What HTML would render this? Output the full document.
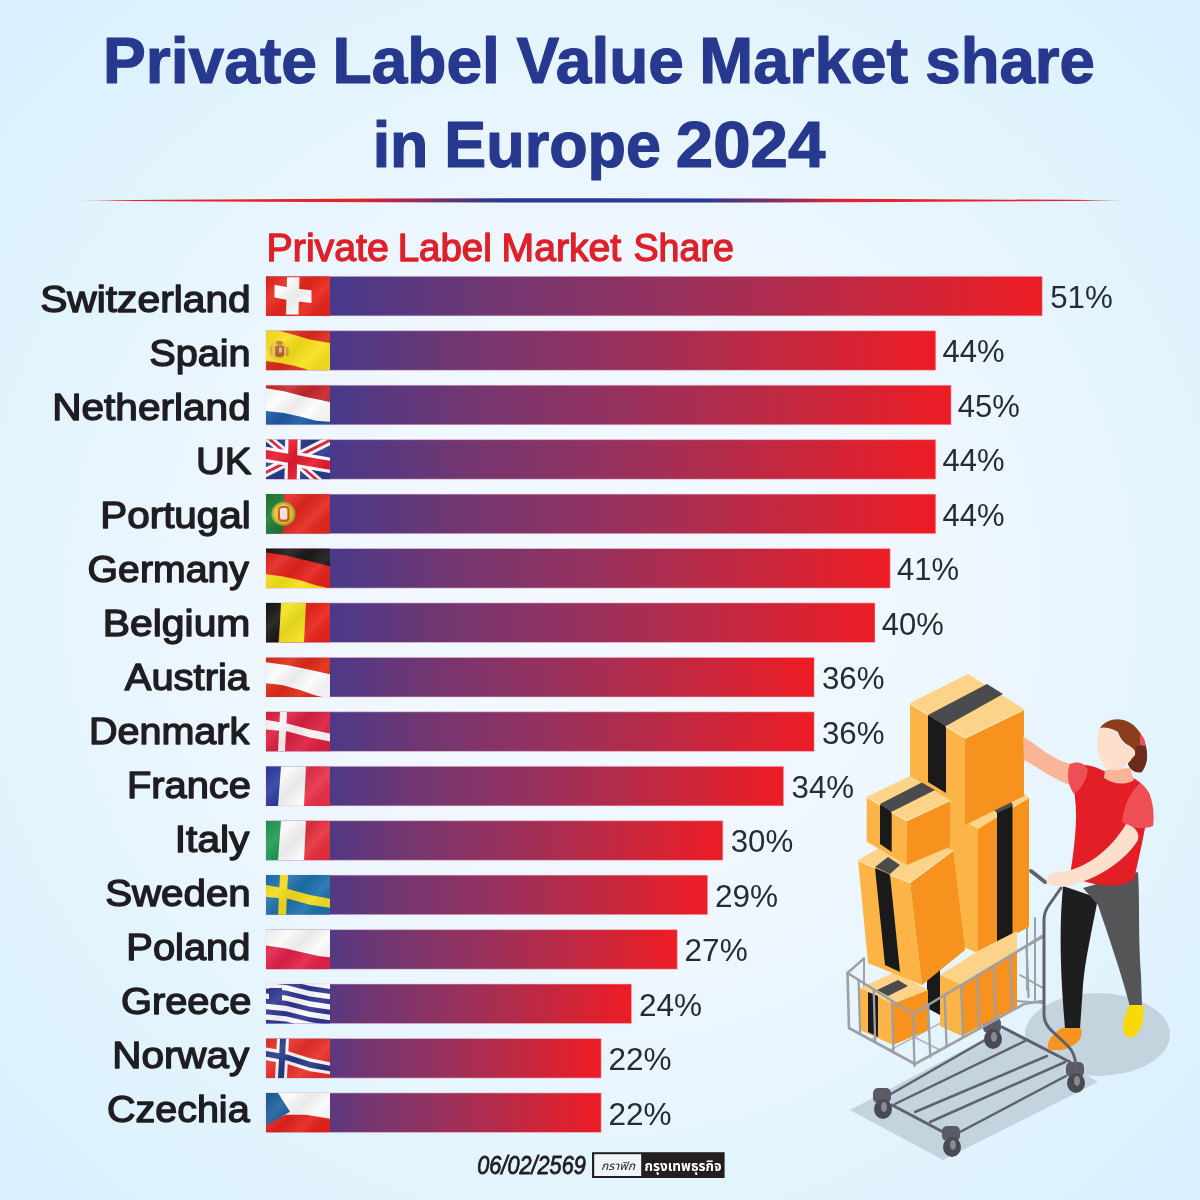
<!DOCTYPE html>
<html lang="en"><head><meta charset="utf-8"><title>Private Label Value Market share in Europe 2024</title>
<style>html,body{margin:0;padding:0;background:#e6f4fd}body{width:1200px;height:1200px;overflow:hidden}svg{display:block}text{font-family:"Liberation Sans", "Noto Sans Thai", "DejaVu Sans", sans-serif}
.ttl{font-weight:700;fill:#27388f;stroke:#27388f;stroke-width:1.2px;stroke-linejoin:round}
.sub{fill:#df2029;stroke:#df2029;stroke-width:1.3px;stroke-linejoin:round}
.lab{fill:#1f1d21;stroke:#1f1d21;stroke-width:1.4px;stroke-linejoin:round}
.pct{fill:#262b35}
.dt{font-style:italic;fill:#1f1d21;stroke:#1f1d21;stroke-width:.7px}
</style></head><body>
<svg width="1200" height="1200" viewBox="0 0 1200 1200">
<defs>
<radialGradient id="bg" gradientUnits="userSpaceOnUse" cx="600" cy="600" r="850"><stop offset="0" stop-color="#f4f9ff"/><stop offset="0.44" stop-color="#eef6fe"/><stop offset="0.59" stop-color="#e7f5fe"/><stop offset="0.68" stop-color="#e3f4fd"/><stop offset="0.96" stop-color="#daf0fe"/></radialGradient>
<linearGradient id="dv" x1="0" x2="1" y1="0" y2="0"><stop offset="0" stop-color="#e8232b" stop-opacity="0.3"/><stop offset="0.04" stop-color="#e8232b"/><stop offset="0.27" stop-color="#e2232e"/><stop offset="0.40" stop-color="#2b3990"/><stop offset="0.60" stop-color="#2b3990"/><stop offset="0.73" stop-color="#e2232e"/><stop offset="0.96" stop-color="#e8232b"/><stop offset="1" stop-color="#e8232b" stop-opacity="0.3"/></linearGradient>
<linearGradient id="wave" x1="0" x2="1" y1="0" y2="0.6"><stop offset="0" stop-color="#000" stop-opacity="0.06"/><stop offset="0.3" stop-color="#fff" stop-opacity="0.10"/><stop offset="0.55" stop-color="#000" stop-opacity="0.07"/><stop offset="0.8" stop-color="#fff" stop-opacity="0.08"/><stop offset="1" stop-color="#000" stop-opacity="0.05"/></linearGradient>
<clipPath id="fc"><rect width="64" height="40"/></clipPath>
<linearGradient id="g0" gradientUnits="userSpaceOnUse" x1="266" x2="1042.3" y1="0" y2="0"><stop offset="0" stop-color="#343b96"/><stop offset="0.3" stop-color="#733670"/><stop offset="0.5" stop-color="#933260"/><stop offset="0.8" stop-color="#c9263c"/><stop offset="1" stop-color="#ee1c24"/></linearGradient>
<linearGradient id="g1" gradientUnits="userSpaceOnUse" x1="266" x2="935.8" y1="0" y2="0"><stop offset="0" stop-color="#343b96"/><stop offset="0.3" stop-color="#733670"/><stop offset="0.5" stop-color="#933260"/><stop offset="0.8" stop-color="#c9263c"/><stop offset="1" stop-color="#ee1c24"/></linearGradient>
<linearGradient id="g2" gradientUnits="userSpaceOnUse" x1="266" x2="951.1" y1="0" y2="0"><stop offset="0" stop-color="#343b96"/><stop offset="0.3" stop-color="#733670"/><stop offset="0.5" stop-color="#933260"/><stop offset="0.8" stop-color="#c9263c"/><stop offset="1" stop-color="#ee1c24"/></linearGradient>
<linearGradient id="g3" gradientUnits="userSpaceOnUse" x1="266" x2="935.8" y1="0" y2="0"><stop offset="0" stop-color="#343b96"/><stop offset="0.3" stop-color="#733670"/><stop offset="0.5" stop-color="#933260"/><stop offset="0.8" stop-color="#c9263c"/><stop offset="1" stop-color="#ee1c24"/></linearGradient>
<linearGradient id="g4" gradientUnits="userSpaceOnUse" x1="266" x2="935.8" y1="0" y2="0"><stop offset="0" stop-color="#343b96"/><stop offset="0.3" stop-color="#733670"/><stop offset="0.5" stop-color="#933260"/><stop offset="0.8" stop-color="#c9263c"/><stop offset="1" stop-color="#ee1c24"/></linearGradient>
<linearGradient id="g5" gradientUnits="userSpaceOnUse" x1="266" x2="890.2" y1="0" y2="0"><stop offset="0" stop-color="#343b96"/><stop offset="0.3" stop-color="#733670"/><stop offset="0.5" stop-color="#933260"/><stop offset="0.8" stop-color="#c9263c"/><stop offset="1" stop-color="#ee1c24"/></linearGradient>
<linearGradient id="g6" gradientUnits="userSpaceOnUse" x1="266" x2="875.0" y1="0" y2="0"><stop offset="0" stop-color="#343b96"/><stop offset="0.3" stop-color="#733670"/><stop offset="0.5" stop-color="#933260"/><stop offset="0.8" stop-color="#c9263c"/><stop offset="1" stop-color="#ee1c24"/></linearGradient>
<linearGradient id="g7" gradientUnits="userSpaceOnUse" x1="266" x2="814.2" y1="0" y2="0"><stop offset="0" stop-color="#343b96"/><stop offset="0.3" stop-color="#733670"/><stop offset="0.5" stop-color="#933260"/><stop offset="0.8" stop-color="#c9263c"/><stop offset="1" stop-color="#ee1c24"/></linearGradient>
<linearGradient id="g8" gradientUnits="userSpaceOnUse" x1="266" x2="814.2" y1="0" y2="0"><stop offset="0" stop-color="#343b96"/><stop offset="0.3" stop-color="#733670"/><stop offset="0.5" stop-color="#933260"/><stop offset="0.8" stop-color="#c9263c"/><stop offset="1" stop-color="#ee1c24"/></linearGradient>
<linearGradient id="g9" gradientUnits="userSpaceOnUse" x1="266" x2="783.7" y1="0" y2="0"><stop offset="0" stop-color="#343b96"/><stop offset="0.3" stop-color="#733670"/><stop offset="0.5" stop-color="#933260"/><stop offset="0.8" stop-color="#c9263c"/><stop offset="1" stop-color="#ee1c24"/></linearGradient>
<linearGradient id="g10" gradientUnits="userSpaceOnUse" x1="266" x2="722.9" y1="0" y2="0"><stop offset="0" stop-color="#343b96"/><stop offset="0.3" stop-color="#733670"/><stop offset="0.5" stop-color="#933260"/><stop offset="0.8" stop-color="#c9263c"/><stop offset="1" stop-color="#ee1c24"/></linearGradient>
<linearGradient id="g11" gradientUnits="userSpaceOnUse" x1="266" x2="707.7" y1="0" y2="0"><stop offset="0" stop-color="#343b96"/><stop offset="0.3" stop-color="#733670"/><stop offset="0.5" stop-color="#933260"/><stop offset="0.8" stop-color="#c9263c"/><stop offset="1" stop-color="#ee1c24"/></linearGradient>
<linearGradient id="g12" gradientUnits="userSpaceOnUse" x1="266" x2="677.3" y1="0" y2="0"><stop offset="0" stop-color="#343b96"/><stop offset="0.3" stop-color="#733670"/><stop offset="0.5" stop-color="#933260"/><stop offset="0.8" stop-color="#c9263c"/><stop offset="1" stop-color="#ee1c24"/></linearGradient>
<linearGradient id="g13" gradientUnits="userSpaceOnUse" x1="266" x2="631.6" y1="0" y2="0"><stop offset="0" stop-color="#343b96"/><stop offset="0.3" stop-color="#733670"/><stop offset="0.5" stop-color="#933260"/><stop offset="0.8" stop-color="#c9263c"/><stop offset="1" stop-color="#ee1c24"/></linearGradient>
<linearGradient id="g14" gradientUnits="userSpaceOnUse" x1="266" x2="601.2" y1="0" y2="0"><stop offset="0" stop-color="#343b96"/><stop offset="0.3" stop-color="#733670"/><stop offset="0.5" stop-color="#933260"/><stop offset="0.8" stop-color="#c9263c"/><stop offset="1" stop-color="#ee1c24"/></linearGradient>
<linearGradient id="g15" gradientUnits="userSpaceOnUse" x1="266" x2="601.2" y1="0" y2="0"><stop offset="0" stop-color="#343b96"/><stop offset="0.3" stop-color="#733670"/><stop offset="0.5" stop-color="#933260"/><stop offset="0.8" stop-color="#c9263c"/><stop offset="1" stop-color="#ee1c24"/></linearGradient>
</defs>
<rect width="1200" height="1200" fill="url(#bg)"/>
<text transform="matrix(1.0025 0 0 1.0200 102.99 83.30)" font-size="64.00" class="ttl" >Private</text>
<text transform="matrix(1.0008 0 0 1.0200 332.60 83.30)" font-size="64.00" class="ttl" >Label</text>
<text transform="matrix(1.0011 0 0 1.0200 516.60 83.30)" font-size="64.00" class="ttl" >Value</text>
<text transform="matrix(1.0119 0 0 1.0200 699.25 83.30)" font-size="64.00" class="ttl" >Market</text>
<text transform="matrix(0.9935 0 0 1.0200 925.31 83.30)" font-size="64.00" class="ttl" >share</text>
<text transform="matrix(0.9803 0 0 1.0200 372.68 166.60)" font-size="64.00" class="ttl" >in</text>
<text transform="matrix(0.9824 0 0 1.0200 444.37 166.60)" font-size="64.00" class="ttl" >Europe</text>
<text transform="matrix(1.0499 0 0 1.0200 675.80 166.60)" font-size="64.00" class="ttl" >2024</text>
<path d="M77,200.4 Q600,196.2 1126,200.4 Q600,204.8 77,200.4 Z" fill="url(#dv)"/>
<text transform="matrix(1.0265 0 0 1.0000 266.58 261.30)" font-size="38.30" class="sub" >Private</text>
<text transform="matrix(1.0057 0 0 1.0000 397.64 261.30)" font-size="38.30" class="sub" >Label</text>
<text transform="matrix(1.0220 0 0 1.0000 501.59 261.30)" font-size="38.30" class="sub" >Market</text>
<text transform="matrix(0.9824 0 0 1.0000 633.47 261.30)" font-size="38.30" class="sub" >Share</text>
<rect x="266" y="276.3" width="776.3" height="39.6" fill="url(#g0)" stroke="#f3c6d6" stroke-opacity=".55" stroke-width="1"/>
<g transform="translate(266 276.3) scale(1 0.990)" clip-path="url(#fc)"><rect width="64" height="40" fill="#e8261c"/><polygon points="21,1 33.5,1 32.5,38.5 20,38.5" fill="#fbfbfb"/><polygon points="8.5,8.5 27,12 45.5,14 45.5,27 27,25 8.5,21.5" fill="#fbfbfb"/><rect width="64" height="40" fill="url(#wave)"/></g>
<text transform="matrix(1.0810 0 0 1.0000 40.13 311.50)" font-size="37.70" class="lab" >Switzerland</text>
<text transform="matrix(1.0189 0 0 1.0000 1050.13 308.00)" font-size="30.70" class="pct" >51%</text>
<rect x="266" y="330.7" width="669.8" height="39.6" fill="url(#g1)" stroke="#f3c6d6" stroke-opacity=".55" stroke-width="1"/>
<g transform="translate(266 330.7) scale(1 0.990)" clip-path="url(#fc)"><rect width="64" height="40" fill="#f9e11e"/><polygon points="13,0 64,0 64,12.5 44,9 26,3.5" fill="#dc2a1c"/><polygon points="0,30.5 14,32.5 28,35.5 40,39 42,40 0,40" fill="#dc2a1c"/><ellipse cx="12" cy="19.5" rx="9.5" ry="9.5" fill="#e9b548" opacity="0.6"/><rect x="9" y="15" width="9" height="11.5" rx="2.5" fill="#b0611f"/><rect x="10.5" y="10.5" width="6" height="4" rx="1.5" fill="#c27a28"/><rect x="4" y="16" width="2.6" height="9" fill="#d9a24a"/><rect x="20" y="16.5" width="2.6" height="9" fill="#d9a24a"/><rect x="13" y="17" width="3" height="5" fill="#e7c7c0" opacity=".8"/><rect width="64" height="40" fill="url(#wave)"/></g>
<text transform="matrix(1.0534 0 0 1.0000 149.16 365.50)" font-size="37.70" class="lab" >Spain</text>
<text transform="matrix(1.0108 0 0 1.0000 942.56 362.44)" font-size="30.70" class="pct" >44%</text>
<rect x="266" y="385.2" width="685.1" height="39.6" fill="url(#g2)" stroke="#f3c6d6" stroke-opacity=".55" stroke-width="1"/>
<g transform="translate(266 385.2) scale(1 0.990)" clip-path="url(#fc)"><rect width="64" height="40" fill="#fdfdfd"/><polygon points="0,0 64,0 64,17 40,12 18,6 0,3" fill="#c8262c"/><polygon points="0,26 18,28 36,32 50,36 64,37 64,40 0,40" fill="#1f5aa6"/><rect width="64" height="40" fill="url(#wave)"/></g>
<text transform="matrix(1.0765 0 0 1.0000 52.23 419.50)" font-size="37.70" class="lab" >Netherland</text>
<text transform="matrix(1.0108 0 0 1.0000 957.77 416.88)" font-size="30.70" class="pct" >45%</text>
<rect x="266" y="439.6" width="669.8" height="39.6" fill="url(#g3)" stroke="#f3c6d6" stroke-opacity=".55" stroke-width="1"/>
<g transform="translate(266 439.6) scale(1 0.990)" clip-path="url(#fc)"><rect width="64" height="40" fill="#2b3a8c"/><g transform="matrix(1 0.17 -0.02 1 0 -5)"><path d="M-14,-8 L68,48 M68,-8 L-14,48" stroke="#fff" stroke-width="8.5"/><path d="M-14,-8 L68,48 M68,-8 L-14,48" stroke="#e0203a" stroke-width="2.8"/><path d="M27,-20 V60 M-20,20 H80" stroke="#fff" stroke-width="15.5"/><path d="M27,-20 V60 M-20,20 H80" stroke="#e51b2e" stroke-width="9"/></g><rect width="64" height="40" fill="url(#wave)"/></g>
<text transform="matrix(1.0583 0 0 1.0000 195.91 473.50)" font-size="37.70" class="lab" >UK</text>
<text transform="matrix(1.0108 0 0 1.0000 942.56 471.32)" font-size="30.70" class="pct" >44%</text>
<rect x="266" y="494.1" width="669.8" height="39.6" fill="url(#g4)" stroke="#f3c6d6" stroke-opacity=".55" stroke-width="1"/>
<g transform="translate(266 494.1) scale(1 0.990)" clip-path="url(#fc)"><rect width="64" height="40" fill="#e5281f"/><polygon points="0,0 18,0 17,40 0,40" fill="#1d7a35"/><circle cx="17.5" cy="20" r="11" fill="#e6c72a"/><circle cx="17.5" cy="20" r="11" fill="none" stroke="#9fae2a" stroke-width="2"/><rect x="14" y="14" width="7.5" height="12" rx="2" fill="#f3ece6"/><rect x="13" y="13" width="9.5" height="14" rx="3" fill="none" stroke="#d9532a" stroke-width="2"/><rect width="64" height="40" fill="url(#wave)"/></g>
<text transform="matrix(1.0720 0 0 1.0000 100.24 527.50)" font-size="37.70" class="lab" >Portugal</text>
<text transform="matrix(1.0108 0 0 1.0000 942.56 525.76)" font-size="30.70" class="pct" >44%</text>
<rect x="266" y="548.5" width="624.2" height="39.6" fill="url(#g5)" stroke="#f3c6d6" stroke-opacity=".55" stroke-width="1"/>
<g transform="translate(266 548.5) scale(1 0.990)" clip-path="url(#fc)"><rect width="64" height="40" fill="#e4231c"/><polygon points="0,0 64,0 64,18 44,13 20,7 0,4" fill="#1a1a1a"/><polygon points="0,26 16,28 34,32 50,37 62,40 0,40" fill="#f7e11a"/><rect width="64" height="40" fill="url(#wave)"/></g>
<text transform="matrix(1.0407 0 0 1.0000 87.56 581.50)" font-size="37.70" class="lab" >Germany</text>
<text transform="matrix(1.0108 0 0 1.0000 896.93 580.20)" font-size="30.70" class="pct" >41%</text>
<rect x="266" y="602.9" width="609.0" height="39.6" fill="url(#g6)" stroke="#f3c6d6" stroke-opacity=".55" stroke-width="1"/>
<g transform="translate(266 602.9) scale(1 0.990)" clip-path="url(#fc)"><rect width="64" height="40" fill="#e9251d"/><polygon points="0,0 16,0 12,40 0,40" fill="#161616"/><polygon points="15,0 40,0 38,40 13,40" fill="#f3e41e"/><rect width="64" height="40" fill="url(#wave)"/></g>
<text transform="matrix(1.0837 0 0 1.0000 102.81 635.50)" font-size="37.70" class="lab" >Belgium</text>
<text transform="matrix(1.0108 0 0 1.0000 881.72 634.64)" font-size="30.70" class="pct" >40%</text>
<rect x="266" y="657.4" width="548.2" height="39.6" fill="url(#g7)" stroke="#f3c6d6" stroke-opacity=".55" stroke-width="1"/>
<g transform="translate(266 657.4) scale(1 0.990)" clip-path="url(#fc)"><rect width="64" height="40" fill="#fcfcfc"/><polygon points="0,0 64,0 64,17 46,13 22,8 0,5" fill="#e12a18"/><polygon points="0,26 16,28 34,33 48,38 56,40 0,40" fill="#e12a18"/><rect width="64" height="40" fill="url(#wave)"/></g>
<text transform="matrix(1.0589 0 0 1.0000 124.80 689.50)" font-size="37.70" class="lab" >Austria</text>
<text transform="matrix(1.0189 0 0 1.0000 821.98 689.08)" font-size="30.70" class="pct" >36%</text>
<rect x="266" y="711.8" width="548.2" height="39.6" fill="url(#g8)" stroke="#f3c6d6" stroke-opacity=".55" stroke-width="1"/>
<g transform="translate(266 711.8) scale(1 0.990)" clip-path="url(#fc)"><rect width="64" height="40" fill="#dc2042"/><polygon points="0,8 22,12 44,18 64,22 64,30 44,26 22,20 0,18" fill="#fbf4f4"/><polygon points="14,0 21,0 19,40 12,40" fill="#fbf4f4"/><rect width="64" height="40" fill="url(#wave)"/></g>
<text transform="matrix(1.0486 0 0 1.0000 88.91 743.50)" font-size="37.70" class="lab" >Denmark</text>
<text transform="matrix(1.0189 0 0 1.0000 821.98 743.52)" font-size="30.70" class="pct" >36%</text>
<rect x="266" y="766.3" width="517.7" height="39.6" fill="url(#g9)" stroke="#f3c6d6" stroke-opacity=".55" stroke-width="1"/>
<g transform="translate(266 766.3) scale(1 0.990)" clip-path="url(#fc)"><rect width="64" height="40" fill="#fafafa"/><polygon points="0,0 15,0 12,40 0,40" fill="#2c3c9e"/><polygon points="40,0 64,0 64,40 38,40" fill="#e8324a"/><rect width="64" height="40" fill="url(#wave)"/></g>
<text transform="matrix(1.0571 0 0 1.0000 126.89 797.50)" font-size="37.70" class="lab" >France</text>
<text transform="matrix(1.0189 0 0 1.0000 791.56 797.96)" font-size="30.70" class="pct" >34%</text>
<rect x="266" y="820.7" width="456.9" height="39.6" fill="url(#g10)" stroke="#f3c6d6" stroke-opacity=".55" stroke-width="1"/>
<g transform="translate(266 820.7) scale(1 0.990)" clip-path="url(#fc)"><rect width="64" height="40" fill="#fafafa"/><polygon points="0,0 15,0 12,40 0,40" fill="#1f9b55"/><polygon points="40,0 64,0 64,40 38,40" fill="#e6303e"/><rect width="64" height="40" fill="url(#wave)"/></g>
<text transform="matrix(1.0771 0 0 1.0000 174.83 851.50)" font-size="37.70" class="lab" >Italy</text>
<text transform="matrix(1.0189 0 0 1.0000 730.72 852.40)" font-size="30.70" class="pct" >30%</text>
<rect x="266" y="875.1" width="441.7" height="39.6" fill="url(#g11)" stroke="#f3c6d6" stroke-opacity=".55" stroke-width="1"/>
<g transform="translate(266 875.1) scale(1 0.990)" clip-path="url(#fc)"><rect width="64" height="40" fill="#1d72ad"/><polygon points="0,10 22,14 44,20 64,24 64,33 44,30 22,24 0,22" fill="#f4dc1c"/><polygon points="14,0 22,0 20,40 12,40" fill="#f4dc1c"/><rect width="64" height="40" fill="url(#wave)"/></g>
<text transform="matrix(1.0689 0 0 1.0000 105.14 905.50)" font-size="37.70" class="lab" >Sweden</text>
<text transform="matrix(1.0272 0 0 1.0000 715.01 906.84)" font-size="30.70" class="pct" >29%</text>
<rect x="266" y="929.6" width="411.3" height="39.6" fill="url(#g12)" stroke="#f3c6d6" stroke-opacity=".55" stroke-width="1"/>
<g transform="translate(266 929.6) scale(1 0.990)" clip-path="url(#fc)"><rect width="64" height="40" fill="#fbfbfb"/><polygon points="0,16 20,19 40,24 54,27 64,28 64,40 0,40" fill="#e4214a"/><rect width="64" height="40" fill="url(#wave)"/></g>
<text transform="matrix(1.0585 0 0 1.0000 126.28 959.50)" font-size="37.70" class="lab" >Poland</text>
<text transform="matrix(1.0272 0 0 1.0000 684.59 961.28)" font-size="30.70" class="pct" >27%</text>
<rect x="266" y="984.0" width="365.6" height="39.6" fill="url(#g13)" stroke="#f3c6d6" stroke-opacity=".55" stroke-width="1"/>
<g transform="translate(266 984.0) scale(1 0.990)" clip-path="url(#fc)"><rect width="64" height="40" fill="#fdfdfd"/><polygon points="0,-6.0 20,-4.0 44,2.0 64,5.0 64,10.0 44,7.0 20,1.0 0,-1.0" fill="#2f3590"/><polygon points="0,4.5 20,6.5 44,12.5 64,15.5 64,20.5 44,17.5 20,11.5 0,9.5" fill="#2f3590"/><polygon points="0,15.0 20,17.0 44,23.0 64,26.0 64,31.0 44,28.0 20,22.0 0,20.0" fill="#2f3590"/><polygon points="0,25.5 20,27.5 44,33.5 64,36.5 64,41.5 44,38.5 20,32.5 0,30.5" fill="#2f3590"/><polygon points="0,36.0 20,38.0 44,44.0 64,47.0 64,52.0 44,49.0 20,43.0 0,41.0" fill="#2f3590"/><rect x="3" y="4" width="13" height="13" fill="#2f3590"/><rect width="64" height="40" fill="url(#wave)"/></g>
<text transform="matrix(1.0562 0 0 1.0000 120.93 1013.50)" font-size="37.70" class="lab" >Greece</text>
<text transform="matrix(1.0272 0 0 1.0000 638.96 1015.72)" font-size="30.70" class="pct" >24%</text>
<rect x="266" y="1038.5" width="335.2" height="39.6" fill="url(#g14)" stroke="#f3c6d6" stroke-opacity=".55" stroke-width="1"/>
<g transform="translate(266 1038.5) scale(1 0.990)" clip-path="url(#fc)"><rect width="64" height="40" fill="#e8302a"/><polygon points="0,9 22,13 44,20 64,24 64,36 44,33 22,26 0,22" fill="#fdf6f6"/><polygon points="11,0 23,0 21,40 9,40" fill="#fdf6f6"/><polygon points="0,12.5 22,16.5 44,23.5 64,27.5 64,33 44,29.5 22,22.5 0,18.5" fill="#243a86"/><polygon points="14,0 20,0 18,40 12,40" fill="#243a86"/><rect width="64" height="40" fill="url(#wave)"/></g>
<text transform="matrix(1.0725 0 0 1.0000 112.24 1067.50)" font-size="37.70" class="lab" >Norway</text>
<text transform="matrix(1.0272 0 0 1.0000 608.54 1070.16)" font-size="30.70" class="pct" >22%</text>
<rect x="266" y="1092.9" width="335.2" height="39.6" fill="url(#g15)" stroke="#f3c6d6" stroke-opacity=".55" stroke-width="1"/>
<g transform="translate(266 1092.9) scale(1 0.990)" clip-path="url(#fc)"><rect width="64" height="40" fill="#fbfbfb"/><polygon points="0,30 20,22 40,22 64,26 64,40 0,40" fill="#e4231e"/><polygon points="0,0 12,0 24,19 6,30 0,32" fill="#1d5f9a"/><rect width="64" height="40" fill="url(#wave)"/></g>
<text transform="matrix(1.0477 0 0 1.0000 106.95 1121.50)" font-size="37.70" class="lab" >Czechia</text>
<text transform="matrix(1.0272 0 0 1.0000 608.54 1124.60)" font-size="30.70" class="pct" >22%</text>
<polygon points="850.0,1110.0 943.0,1160.0 1098.0,1082.0 1005.0,1028.0" fill="#c4d4df" /><ellipse cx="1097.5" cy="1034.5" rx="72.5" ry="41.5" fill="#c3d4df"/><polyline points="884.0,1098.0 992.0,1036.0" fill="none" stroke="#5d626d" stroke-width="2.5" stroke-linecap="round" stroke-linejoin="round" /><polyline points="895.0,1104.0 1025.0,1041.0" fill="none" stroke="#5d626d" stroke-width="2.5" stroke-linecap="round" stroke-linejoin="round" /><polyline points="915.0,1112.0 1047.0,1056.0" fill="none" stroke="#5d626d" stroke-width="2.5" stroke-linecap="round" stroke-linejoin="round" /><polyline points="930.0,1122.0 1065.0,1062.0" fill="none" stroke="#5d626d" stroke-width="2.5" stroke-linecap="round" stroke-linejoin="round" /><polyline points="960.0,1132.0 1066.0,1076.0" fill="none" stroke="#5d626d" stroke-width="2.5" stroke-linecap="round" stroke-linejoin="round" /><polyline points="892.0,1105.0 945.0,1133.0" fill="none" stroke="#5d626d" stroke-width="3" stroke-linecap="round" stroke-linejoin="round" /><polyline points="1002.0,1027.0 1070.0,1062.0" fill="none" stroke="#5d626d" stroke-width="3" stroke-linecap="round" stroke-linejoin="round" /><rect x="873.0" y="1088.0" width="18" height="15" rx="5" fill="#5b5b66"/><ellipse cx="883.0" cy="1109.0" rx="9" ry="10" fill="#4a4a55"/><ellipse cx="884.0" cy="1107.0" rx="3" ry="5" fill="#8a8a92"/><rect x="942.0" y="1126.0" width="18" height="15" rx="5" fill="#5b5b66"/><ellipse cx="952.0" cy="1147.0" rx="9" ry="10" fill="#4a4a55"/><ellipse cx="953.0" cy="1145.0" rx="3" ry="5" fill="#8a8a92"/><rect x="1066.0" y="1062.0" width="18" height="15" rx="5" fill="#5b5b66"/><ellipse cx="1076.0" cy="1083.0" rx="9" ry="10" fill="#4a4a55"/><ellipse cx="1077.0" cy="1081.0" rx="3" ry="5" fill="#8a8a92"/><rect x="983.0" y="1018.0" width="18" height="15" rx="5" fill="#5b5b66"/><ellipse cx="993.0" cy="1039.0" rx="9" ry="10" fill="#4a4a55"/><ellipse cx="994.0" cy="1037.0" rx="3" ry="5" fill="#8a8a92"/><polyline points="847.5,973.0 864.0,958.5" fill="none" stroke="#9da0a7" stroke-width="2.4" stroke-linecap="round" stroke-linejoin="round" /><polyline points="864.0,958.5 864.0,1008.0" fill="none" stroke="#9da0a7" stroke-width="2" stroke-linecap="round" stroke-linejoin="round" /><polyline points="1027.0,922.0 1027.0,990.0" fill="none" stroke="#9da0a7" stroke-width="2" stroke-linecap="round" stroke-linejoin="round" /><polyline points="1035.0,918.0 1035.0,1000.0" fill="none" stroke="#9da0a7" stroke-width="2" stroke-linecap="round" stroke-linejoin="round" /><polyline points="1018.0,951.0 1043.0,937.0" fill="none" stroke="#9da0a7" stroke-width="2.4" stroke-linecap="round" stroke-linejoin="round" /><polyline points="1020.0,975.0 1043.0,988.0" fill="none" stroke="#9da0a7" stroke-width="2" stroke-linecap="round" stroke-linejoin="round" /><polyline points="1000.0,1000.0 1043.0,1003.0" fill="none" stroke="#9da0a7" stroke-width="2" stroke-linecap="round" stroke-linejoin="round" /><polyline points="870.2,1040.2 930.2,1008.2" fill="none" stroke="#9da0a7" stroke-width="1.6" stroke-linecap="round" stroke-linejoin="round" opacity=".8"/><polyline points="889.4,1050.4 949.4,1018.4" fill="none" stroke="#9da0a7" stroke-width="1.6" stroke-linecap="round" stroke-linejoin="round" opacity=".8"/><polyline points="880.0,1020.0 940.0,1050.0" fill="none" stroke="#9da0a7" stroke-width="1.6" stroke-linecap="round" stroke-linejoin="round" opacity=".8"/><polygon points="946.0,812.0 978.0,828.0 978.0,953.0 946.0,940.0" fill="#fbb445" /><polygon points="978.0,828.0 1029.0,798.0 1029.0,927.0 978.0,953.0" fill="#f7921e" /><polygon points="948.0,812.0 1018.0,787.0 1029.0,798.0 978.0,829.0" fill="#fdd38a" /><polygon points="997.0,812.0 1012.5,805.0 1012.5,935.0 997.0,944.0" fill="#1b1a1a" /><polygon points="991.0,807.0 1010.0,799.0 1013.0,806.0 997.0,813.0" fill="#4b4b4d" /><polygon points="940.0,975.0 962.0,984.0 962.0,1036.0 940.0,1026.0" fill="#fbb445" /><polygon points="962.0,984.0 1017.0,952.0 1017.0,1007.0 962.0,1036.0" fill="#f7921e" /><polygon points="940.0,975.0 978.0,951.0 1017.0,931.0 1017.0,952.0 962.0,985.0" fill="#fdd38a" /><polygon points="927.0,975.0 940.0,968.0 940.0,1015.0 927.0,1008.0" fill="#1b1a1a" /><polygon points="860.0,988.0 893.0,1003.0 893.0,1045.0 860.0,1030.0" fill="#fbb445" /><polygon points="893.0,1003.0 928.0,990.0 928.0,1030.0 893.0,1045.0" fill="#f7921e" /><polygon points="860.0,988.0 895.0,972.0 928.0,990.0 893.0,1004.0" fill="#fdd38a" /><polygon points="877.0,990.0 898.0,980.0 908.0,986.0 888.0,996.0" fill="#4b4b4d" /><polygon points="868.0,992.0 878.0,996.0 878.0,1037.0 868.0,1032.0" fill="#1b1a1a" /><polygon points="858.0,860.0 910.0,882.0 922.0,985.0 868.0,963.0" fill="#fbb445" /><polygon points="910.0,882.0 953.0,850.0 965.0,950.0 922.0,985.0" fill="#f7921e" /><polygon points="858.0,860.0 900.0,836.0 953.0,850.0 910.0,882.0" fill="#fdd38a" /><polygon points="875.0,867.0 888.0,857.0 900.0,865.0 890.0,874.0" fill="#4b4b4d" /><polygon points="875.0,868.0 890.0,874.5 900.0,972.0 885.0,965.0" fill="#1b1a1a" /><polyline points="858.0,860.6 875.0,868.0" fill="none" stroke="#fee3ad" stroke-width="1.3" stroke-linecap="round" stroke-linejoin="round" /><polyline points="890.0,874.8 910.0,882.6 953.0,850.6" fill="none" stroke="#fee3ad" stroke-width="1.3" stroke-linecap="round" stroke-linejoin="round" /><polygon points="910.0,703.0 965.0,737.5 965.0,825.0 910.0,791.0" fill="#fbb445" /><polygon points="965.0,737.5 1024.0,709.0 1024.0,796.0 965.0,825.0" fill="#f7921e" /><polygon points="910.0,703.0 968.0,674.0 1024.0,709.0 965.0,737.5" fill="#fdd38a" /><polygon points="987.0,684.0 1003.0,694.0 946.0,726.0 928.0,715.0" fill="#4b4b4d" /><polygon points="928.0,715.0 946.0,726.0 946.0,793.0 928.0,782.0" fill="#1b1a1a" /><polyline points="910.0,703.6 928.0,714.6" fill="none" stroke="#fee3ad" stroke-width="1.4" stroke-linecap="round" stroke-linejoin="round" /><polyline points="946.0,726.3 965.0,738.0 1024.0,709.6" fill="none" stroke="#fee3ad" stroke-width="1.4" stroke-linecap="round" stroke-linejoin="round" /><polygon points="866.7,796.7 906.7,820.0 906.7,865.0 866.7,841.7" fill="#fbb445" /><polygon points="906.7,820.0 950.0,800.0 950.0,846.7 906.7,865.0" fill="#f7921e" /><polygon points="866.7,796.7 910.0,776.0 950.0,800.0 906.7,820.0" fill="#fdd38a" /><polygon points="921.7,782.5 935.0,790.0 891.7,811.7 880.0,804.0" fill="#4b4b4d" /><polygon points="880.0,804.0 891.7,811.7 891.7,852.0 880.0,844.0" fill="#1b1a1a" /><polyline points="866.7,797.3 880.0,804.8" fill="none" stroke="#fee3ad" stroke-width="1.3" stroke-linecap="round" stroke-linejoin="round" /><polyline points="891.7,812.3 906.7,820.6 950.0,800.6" fill="none" stroke="#fee3ad" stroke-width="1.3" stroke-linecap="round" stroke-linejoin="round" /><polyline points="847.5,973.0 913.0,1014.0 1018.0,951.0 1042.0,936.0" fill="none" stroke="#9da0a7" stroke-width="2.6" stroke-linecap="round" stroke-linejoin="round" /><polyline points="849.0,1028.0 915.0,1064.0 1024.0,1004.0 1042.0,1001.0" fill="none" stroke="#9da0a7" stroke-width="2.6" stroke-linecap="round" stroke-linejoin="round" /><polyline points="847.5,973.0 849.0,1028.0" fill="none" stroke="#9da0a7" stroke-width="2.6" stroke-linecap="round" stroke-linejoin="round" /><polyline points="858.6,980.0 860.1,1032.0" fill="none" stroke="#9da0a7" stroke-width="2.3" stroke-linecap="round" stroke-linejoin="round" /><polyline points="873.7,989.4 875.2,1041.4" fill="none" stroke="#9da0a7" stroke-width="2.3" stroke-linecap="round" stroke-linejoin="round" /><polyline points="892.0,1000.9 893.5,1052.9" fill="none" stroke="#9da0a7" stroke-width="2.3" stroke-linecap="round" stroke-linejoin="round" /><polyline points="913.0,1014.0 914.5,1066.0" fill="none" stroke="#9da0a7" stroke-width="2.3" stroke-linecap="round" stroke-linejoin="round" /><polyline points="928.2,1004.8 930.2,1056.8" fill="none" stroke="#9da0a7" stroke-width="2.3" stroke-linecap="round" stroke-linejoin="round" /><polyline points="944.6,994.8 946.6,1046.8" fill="none" stroke="#9da0a7" stroke-width="2.3" stroke-linecap="round" stroke-linejoin="round" /><polyline points="961.0,984.9 963.0,1036.9" fill="none" stroke="#9da0a7" stroke-width="2.3" stroke-linecap="round" stroke-linejoin="round" /><polyline points="977.4,975.0 979.4,1027.0" fill="none" stroke="#9da0a7" stroke-width="2.3" stroke-linecap="round" stroke-linejoin="round" /><polyline points="993.7,965.0 995.7,1017.0" fill="none" stroke="#9da0a7" stroke-width="2.3" stroke-linecap="round" stroke-linejoin="round" /><polyline points="1010.1,955.1 1012.1,1007.1" fill="none" stroke="#9da0a7" stroke-width="2.3" stroke-linecap="round" stroke-linejoin="round" /><polyline points="1026.5,945.1 1028.5,997.1" fill="none" stroke="#9da0a7" stroke-width="2.3" stroke-linecap="round" stroke-linejoin="round" /><path d="M1023,737 C1035,742 1050,760 1072,764 L1070,785 C1050,778 1035,765 1024,760 Z" fill="#f9b596" /><path d="M1063,886 L1098,898 C1092,930 1085,960 1083,985 L1080,1029 L1065,1029 C1062,990 1058,940 1063,886 Z" fill="#1e1e1e" /><path d="M1083,888 L1138,872 C1140,905 1138,930 1141,975 L1142,1006 L1130,1007 C1122,975 1108,935 1098,905 Z" fill="#555557" /><path d="M1130,1005 L1143,1005 C1145,1020 1142,1034 1130,1038 C1120,1036 1122,1018 1130,1005 Z" fill="#f9d908" /><path d="M1062,1028 L1081,1028 C1084,1040 1075,1046 1062,1050 L1048,1050 C1046,1042 1052,1034 1062,1028 Z" fill="#f7931e" /><polyline points="1031.0,871.0 1045.0,882.0" fill="none" stroke="#5d626d" stroke-width="4" stroke-linecap="round" stroke-linejoin="round" /><path d="M1061,888 L1049,905 Q1044,912 1044,920 L1044,1014 Q1044,1024 1052,1031 L1068,1046 Q1075,1053 1076,1066" fill="none" stroke="#5d626d" stroke-width="3" stroke-linecap="round"/><path d="M1072,766 C1085,762 1100,768 1112,775 C1128,772 1142,780 1150,795 C1146,830 1138,860 1134,880 C1115,890 1090,885 1070,876 C1074,850 1078,820 1075,798 Z" fill="#e31e26" /><path d="M1070,764 C1078,760 1086,764 1088,770 C1086,782 1080,790 1074,794 C1068,786 1066,774 1070,764 Z" fill="#ee4e55" /><path d="M1140,783 C1152,790 1155,810 1153,826 C1142,830 1130,828 1122,822 C1124,805 1130,792 1140,783 Z" fill="#ee4e55" /><path d="M1105,770 L1130,768 L1134,780 C1125,786 1112,784 1104,778 Z" fill="#f9b596" /><path d="M1100,728 C1108,716 1128,716 1138,730 C1148,742 1150,760 1142,772 C1136,774 1130,770 1128,764 C1134,758 1134,750 1130,746 C1124,744 1120,738 1118,732 C1112,728 1106,728 1100,728 Z" fill="#8a3d1e" /><path d="M1144,742 C1149,752 1148,766 1141,771.5 C1135,773 1129,769 1128,763 C1133,759 1136,753 1136,747 C1139,746 1142,744 1144,742 Z" fill="#6b2b18" /><path d="M1099,728 C1108,726 1116,730 1119,736 C1122,744 1128,746 1132,748 C1136,754 1132,760 1126,764 C1124,770 1114,772 1106,768 C1098,760 1095,742 1099,728 Z" fill="#fde0cb" /><path d="M1140,734 C1144,737 1146,742 1145,746 L1140,745 Z" fill="#e8505a" /><path d="M1127,747 C1132,746 1136,750 1135,755 C1133,758 1130,760 1128,760 Z" fill="#fde0cb" /><path d="M1126,824 C1134,826 1140,832 1138,840 C1125,861 1100,877 1075,884 C1066,888 1054,887 1047,883 C1045,877 1051,871 1061,872 C1085,869 1110,851 1126,824 Z" fill="#fde0cb" />
<text transform="matrix(0.9861 0 0 1.1800 477.27 1174.00)" font-size="22.00" class="dt" >06/02/2569</text>
<rect x="592" y="1152.2" width="132.6" height="25.8" fill="#231f20"/>
<rect x="594.2" y="1154.2" width="47" height="21.8" fill="#eef5fb"/>
<text x="601" y="1169.5" font-size="11.5" font-style="italic" fill="#231f20" textLength="34" lengthAdjust="spacingAndGlyphs">กราฟิก</text>
<text x="644.5" y="1171" font-size="14.5" font-weight="700" fill="#fff" textLength="77" lengthAdjust="spacingAndGlyphs">กรุงเทพธุรกิจ</text>
</svg></body></html>
